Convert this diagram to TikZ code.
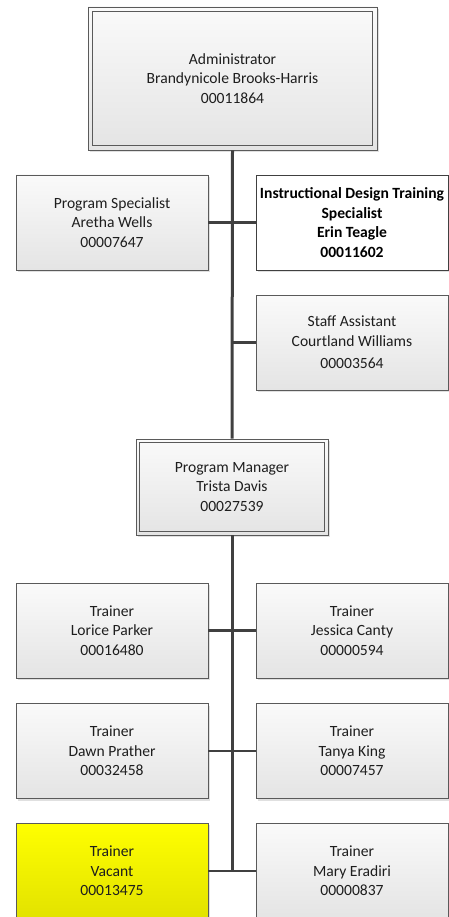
\documentclass[tikz,border=0pt]{standalone}
\usepackage{fontspec}
\setmainfont{Carlito}
\usetikzlibrary{shadows}
\definecolor{bord}{HTML}{5A5A5A}
\definecolor{linec}{HTML}{404040}
\definecolor{txt}{HTML}{1E1E1E}
\definecolor{gtop}{HTML}{FAFAFA}
\definecolor{gbot}{HTML}{E4E4E4}
\definecolor{ytop}{HTML}{FFFF00}
\definecolor{ybot}{HTML}{E2E200}
\begin{document}
\begin{tikzpicture}[x=1pt,y=-1pt,
  orgbox/.style={draw=bord, line width=0.8pt, top color=gtop, bottom color=gbot,
    minimum width=192pt, minimum height=95pt, inner sep=0pt, align=center,
    text=txt, font=\fontsize{15.6}{19.6}\selectfont,
    drop shadow={shadow xshift=2pt, shadow yshift=-2pt, fill=black!30, opacity=0.4}},
  whitebox/.style={orgbox, top color=white, bottom color=white, draw=linec, text=black,
    font=\bfseries\fontsize{15.6}{19.6}\selectfont},
  vacbox/.style={orgbox, top color=ytop, bottom color=ybot},
  trunk/.style={draw=linec, line width=3pt},
  branch/.style={draw=linec, line width=2.4pt},
  innerframe/.style={draw=bord, line width=0.8pt}
]
\useasboundingbox (0,0) rectangle (449,917);
\clip (0,0) rectangle (449,917);

% nodes
\node[orgbox, minimum width=289pt, minimum height=143pt] (admin) at (232.5,78.5)
  {Administrator\\Brandynicole Brooks-Harris\\00011864};
\draw[innerframe] ([shift={(5pt,-5pt)}]admin.north west) rectangle ([shift={(-5pt,5pt)}]admin.south east);

\node[orgbox] (ps) at (112,222.5) {Program Specialist\\Aretha Wells\\00007647};
\node[whitebox] (idt) at (352,222.5) {Instructional Design Training\\Specialist\\Erin Teagle\\00011602};
\node[orgbox] (sa) at (352,342.5) {Staff Assistant\\Courtland Williams\\[3pt]00003564};

\node[orgbox, minimum height=96pt] (pm) at (232,487) {Program Manager\\Trista Davis\\00027539};
\draw[innerframe] ([shift={(4pt,-4pt)}]pm.north west) rectangle ([shift={(-4pt,4pt)}]pm.south east);

\node[orgbox] (t1) at (112,630.5) {Trainer\\Lorice Parker\\00016480};
\node[orgbox] (t2) at (352,630.5) {Trainer\\Jessica Canty\\00000594};
\node[orgbox] (t3) at (112,751) {Trainer\\Dawn Prather\\00032458};
\node[orgbox] (t4) at (352,751) {Trainer\\Tanya King\\00007457};
\node[vacbox, minimum height=96pt] (t5) at (112,871) {Trainer\\Vacant\\00013475};
\node[orgbox, minimum height=96pt] (t6) at (352,871) {Trainer\\Mary Eradiri\\00000837};

% connectors
\coordinate (sajoin) at (232,342.5);
\coordinate (bottomjoin) at (232,871);
\draw[trunk] (admin.south) -- (pm.north);
\draw[trunk] (pm.south) -- (bottomjoin);
\draw[branch] (ps.east) -- (idt.west);
\draw[branch] (sajoin) -- (sa.west);
\draw[branch] (t1.east) -- (t2.west);
\draw[branch] (t3.east) -- (t4.west);
\draw[branch] (t5.east) -- (t6.west);
\end{tikzpicture}
\end{document}
